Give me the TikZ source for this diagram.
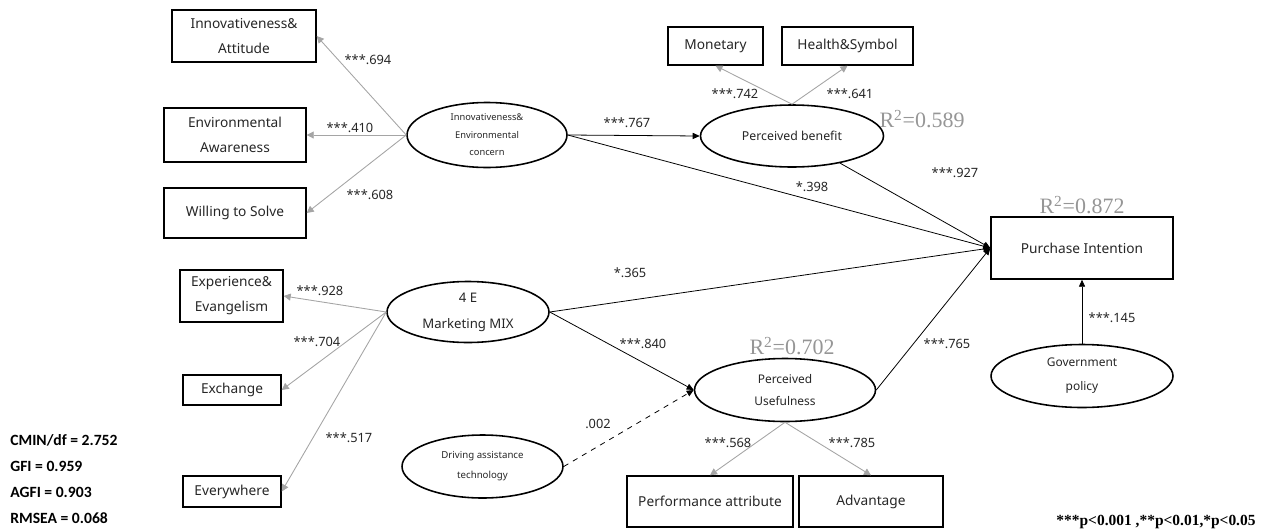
\documentclass[tikz,border=0pt]{standalone}
\usepackage{fontspec}
\setmainfont{Noto Sans}
\newfontfamily\statfont{Carlito}
\newfontfamily\rfont{Liberation Serif}
\usetikzlibrary{arrows.meta, shapes.geometric}
\definecolor{loadgray}{RGB}{165,165,165}
\definecolor{rgray}{RGB}{150,150,150}

\begin{document}
\begin{tikzpicture}[x=0.02cm, y=-0.02cm,
    box/.style={draw, line width=0.8pt, align=center, inner sep=0pt, text=black!85, font=\fontsize{7.8}{14.2}\selectfont},
    latent/.style={draw, ellipse, line width=0.9pt, align=center, inner sep=0pt, text=black!85},
    coef/.style={font=\fontsize{7.3}{8}\selectfont, inner sep=0pt, text=black!85},
    rsq/.style={font=\rfont\fontsize{12.5}{14}\selectfont, text=rgray, inner sep=0pt},
    stat/.style={font=\statfont\bfseries\fontsize{8.9}{11}\selectfont, anchor=west, inner sep=0pt},
    load/.style={draw=loadgray, line width=0.5pt, -{Triangle[length=4pt, width=4pt]}},
    effect/.style={line width=0.45pt, -{Triangle[length=4pt, width=3.5pt]}}]
    \useasboundingbox (0,0) rectangle (1261,531);

    % Latent variables
    \node[latent, minimum width=3.2cm, minimum height=1.3cm, font=\fontsize{5.3}{10}\selectfont] (iec) at (487,135) {Innovativeness\&\\Environmental\\concern};
    \node[latent, minimum width=3.66cm, minimum height=1.24cm, font=\fontsize{7}{8}\selectfont] (pb) at (792,136) {Perceived benefit};
    \node[latent, minimum width=3.24cm, minimum height=1.22cm, font=\fontsize{7.5}{14.8}\selectfont] (mm) at (468,312) {4 E\\Marketing MIX};
    \node[latent, minimum width=3.62cm, minimum height=1.26cm, font=\fontsize{6.8}{13}\selectfont] (pu) at (785,390) {Perceived\\Usefulness};
    \node[latent, minimum width=3.22cm, minimum height=1.26cm, font=\fontsize{5.5}{11.4}\selectfont] (dat) at (482.5,466.5) {Driving assistance\\technology};
    \node[latent, minimum width=3.64cm, minimum height=1.26cm, font=\fontsize{6.8}{13.6}\selectfont] (gp) at (1082,376) {Government\\policy};

    % Observed variables
    \node[box, minimum width=2.88cm, minimum height=1.04cm] (ia) at (244,36) {Innovativeness\&\\Attitude};
    \node[box, minimum width=2.84cm, minimum height=1.08cm] (ea) at (235,135) {Environmental\\Awareness};
    \node[box, minimum width=2.84cm, minimum height=1.0cm] (ws) at (235,213) {Willing to Solve};
    \node[box, minimum width=2.06cm, minimum height=1.04cm] (ee) at (231.5,296) {Experience\&\\Evangelism};
    \node[box, minimum width=1.96cm, minimum height=0.6cm] (ex) at (232,390) {Exchange};
    \node[box, minimum width=1.96cm, minimum height=0.62cm] (ew) at (232,491.5) {Everywhere};
    \node[box, minimum width=1.9cm, minimum height=0.76cm] (mo) at (715.5,46) {Monetary};
    \node[box, minimum width=2.62cm, minimum height=0.76cm] (hs) at (847.5,46) {Health\&Symbol};
    \node[box, minimum width=3.32cm, minimum height=1.02cm] (pa) at (710,501.5) {Performance attribute};
    \node[box, minimum width=2.88cm, minimum height=1.02cm] (ad) at (871,501.5) {Advantage};
    \node[box, minimum width=3.64cm, minimum height=1.24cm] (pi) at (1082,248) {Purchase Intention};

    % Loadings
    \draw[load] (iec.west) -- (ia.east);
    \draw[load] (iec.west) -- (ea.east);
    \draw[load] (iec.west) -- (ws.east);
    \draw[load] (mm.west) -- (ee.east);
    \draw[load] (mm.west) -- (ex.east);
    \draw[load] (mm.west) -- (ew.east);
    \draw[load] (pb.north) -- (mo.south);
    \draw[load] (pb.north) -- (hs.south);
    \draw[load] (pu.south) -- (pa.north);
    \draw[load] (pu.south) -- (ad.north);

    % Structural paths
    \draw[effect] (iec.east) -- (pb.west);
    \draw[effect] (iec.east) -- (pi.west);
    \draw[effect] (pb) -- (pi.west);
    \draw[effect] (mm.east) -- (pi.west);
    \draw[effect] (mm.east) -- (pu.west);
    \draw[effect, dashed] (dat.east) -- (pu.west);
    \draw[effect] (pu.east) -- (pi.west);
    \draw[effect] (gp.north) -- (pi.south);

    % Coefficients
    \node[coef] (c694) at (368,60) {***.694};
    \node[coef] (c410) at (350,128) {***.410};
    \node[coef] (c608) at (370,195) {***.608};
    \node[coef] (c928) at (320,291) {***.928};
    \node[coef] (c704) at (317,342) {***.704};
    \node[coef] (c517) at (349,438) {***.517};
    \node[coef] (c742) at (735,94) {***.742};
    \node[coef] (c641) at (850,94) {***.641};
    \node[coef] (c767) at (627,123) {***.767};
    \node[coef] (c398) at (812,187) {*.398};
    \node[coef] (c927) at (955,173) {***.927};
    \node[coef] (c365) at (630,273) {*.365};
    \node[coef] (c840) at (643,344) {***.840};
    \node[coef] (c002) at (598,424) {.002};
    \node[coef] (c765) at (947,344) {***.765};
    \node[coef] (c145) at (1112,318) {***.145};
    \node[coef] (c568) at (728,443) {***.568};
    \node[coef] (c785) at (852,443) {***.785};

    % R squared
    \node[rsq] (r589) at (922,119) {R\textsuperscript{2}=0.589};
    \node[rsq] (r702) at (792,346) {R\textsuperscript{2}=0.702};
    \node[rsq] (r872) at (1082,205) {R\textsuperscript{2}=0.872};

    % Fit indices
    \node[stat] (cmin) at (10,440) {CMIN/df = 2.752};
    \node[stat] (gfi) at (10,466) {GFI = 0.959};
    \node[stat] (agfi) at (10,492) {AGFI = 0.903};
    \node[stat] (rmsea) at (10,518) {RMSEA = 0.068};
    \node[font=\rfont\bfseries\fontsize{8.8}{10}\selectfont, inner sep=0pt] (sig) at (1156,522) {***p<0.001 ,**p<0.01,*p<0.05};
\end{tikzpicture}
\end{document}
